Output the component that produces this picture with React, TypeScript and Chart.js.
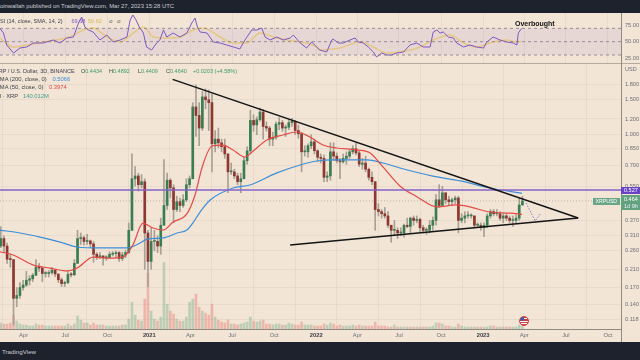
import React, { useEffect, useRef } from "react";
import { Chart, registerables } from "chart.js";

Chart.register(...registerables);

const FONT = "Arial, 'Liberation Sans', sans-serif";
const BG = "#f2e5d6";
const DARK = "#1e222d";
const GRID = "rgba(120,100,80,0.07)";
const AXIS_LINE = "#8f8a84";
const TICK_COLOR = "#6d6f78";

// x values are days counted from 2020-01-01
const X_MIN = 39.4;
const X_MAX = 1397.6;
const X_TICK_DAYS = [91, 182, 274, 366, 456, 547, 639, 731, 821, 912, 1004, 1096, 1186, 1277, 1369];
const X_TICK_LABELS = ["Apr", "Jul", "Oct", "2021", "Apr", "Jul", "Oct", "2022", "Apr", "Jul", "Oct", "2023", "Apr", "Jul", "Oct"];
const YEAR_LABELS = ["2021", "2022", "2023"];

const PRICE_MIN = 0.1051;
const PRICE_MAX = 2.27;
const PRICE_TICKS = [1.8, 1.5, 1.2, 1.0, 0.85, 0.7, 0.55, 0.37, 0.31, 0.26, 0.21, 0.17, 0.14, 0.118];

// weekly candles
const CANDLE_FIRST_DAY = 41;
const CANDLE_PERIOD_DAYS = 7;
const FIRST_OPEN = 0.275;
const CLOSES = [
  0.300, 0.275, 0.236, 0.235, 0.150, 0.155, 0.170, 0.175, 0.185, 0.188,
  0.196, 0.215, 0.213, 0.200, 0.200, 0.202, 0.208, 0.199, 0.186, 0.178,
  0.180, 0.198, 0.197, 0.225, 0.300, 0.303, 0.290, 0.292, 0.282, 0.250,
  0.243, 0.245, 0.240, 0.241, 0.250, 0.252, 0.255, 0.238, 0.248, 0.255,
  0.330, 0.600, 0.620, 0.560, 0.580, 0.320, 0.230, 0.290, 0.290, 0.275,
  0.350, 0.440, 0.590, 0.540, 0.420, 0.460, 0.440, 0.470, 0.560, 0.600,
  1.380, 1.250, 1.080, 1.550, 1.500, 1.450, 0.900, 0.950, 0.910, 0.870,
  0.800, 0.650, 0.650, 0.620, 0.580, 0.600, 0.740, 0.830, 1.180, 1.120,
  1.190, 1.300, 1.100, 1.080, 0.950, 0.970, 1.130, 1.150, 1.080, 1.090,
  1.150, 1.170, 1.050, 1.010, 0.820, 0.820, 0.880, 0.920, 0.830, 0.770,
  0.760, 0.610, 0.620, 0.820, 0.780, 0.740, 0.730, 0.760, 0.780, 0.820,
  0.850, 0.810, 0.710, 0.720, 0.670, 0.610, 0.580, 0.420, 0.410, 0.400,
  0.390, 0.350, 0.330, 0.330, 0.320, 0.320, 0.350, 0.345, 0.380, 0.370,
  0.375, 0.340, 0.330, 0.330, 0.350, 0.370, 0.470, 0.440, 0.510, 0.470,
  0.460, 0.470, 0.480, 0.370, 0.380, 0.390, 0.390, 0.390, 0.350, 0.350,
  0.340, 0.350, 0.390, 0.410, 0.400, 0.400, 0.380, 0.390, 0.380, 0.370,
  0.370, 0.380, 0.443, 0.464,
];
const HIGHS = [
  0.345, 0.310, 0.285, 0.250, 0.235, 0.170, 0.180, 0.185, 0.205, 0.195,
  0.200, 0.235, 0.225, 0.215, 0.205, 0.207, 0.215, 0.210, 0.195, 0.190,
  0.183, 0.206, 0.202, 0.235, 0.330, 0.320, 0.310, 0.315, 0.295, 0.290,
  0.255, 0.255, 0.246, 0.246, 0.257, 0.258, 0.260, 0.258, 0.256, 0.262,
  0.360, 0.800, 0.690, 0.640, 0.630, 0.600, 0.330, 0.340, 0.330, 0.310,
  0.380, 0.750, 0.640, 0.600, 0.560, 0.490, 0.480, 0.500, 0.600, 0.620,
  1.450, 1.780, 1.450, 1.650, 1.700, 1.680, 1.600, 1.050, 1.080, 0.950,
  0.950, 0.800, 0.720, 0.670, 0.640, 0.640, 0.770, 0.870, 1.330, 1.260,
  1.230, 1.360, 1.340, 1.160, 1.100, 1.030, 1.160, 1.220, 1.180, 1.120,
  1.190, 1.210, 1.180, 1.120, 1.030, 0.880, 0.900, 1.000, 0.950, 0.840,
  0.800, 0.790, 0.650, 0.910, 0.910, 0.810, 0.760, 0.800, 0.820, 0.840,
  0.880, 0.910, 0.830, 0.760, 0.780, 0.680, 0.650, 0.580, 0.450, 0.420,
  0.430, 0.410, 0.350, 0.370, 0.340, 0.340, 0.355, 0.380, 0.385, 0.390,
  0.390, 0.380, 0.350, 0.340, 0.370, 0.385, 0.500, 0.560, 0.550, 0.510,
  0.490, 0.480, 0.490, 0.490, 0.400, 0.410, 0.410, 0.400, 0.390, 0.360,
  0.360, 0.360, 0.400, 0.420, 0.420, 0.420, 0.410, 0.400, 0.400, 0.390,
  0.390, 0.395, 0.480, 0.4892,
];
const LOWS = [
  0.270, 0.255, 0.225, 0.215, 0.110, 0.136, 0.150, 0.165, 0.172, 0.175,
  0.182, 0.195, 0.205, 0.182, 0.192, 0.192, 0.198, 0.193, 0.180, 0.172,
  0.172, 0.178, 0.192, 0.195, 0.225, 0.280, 0.278, 0.280, 0.272, 0.228,
  0.235, 0.238, 0.220, 0.233, 0.238, 0.245, 0.240, 0.230, 0.232, 0.240,
  0.252, 0.330, 0.550, 0.520, 0.540, 0.210, 0.172, 0.210, 0.260, 0.255,
  0.250, 0.350, 0.420, 0.480, 0.360, 0.410, 0.410, 0.430, 0.460, 0.540,
  0.600, 0.980, 0.880, 1.050, 1.350, 1.050, 0.650, 0.820, 0.860, 0.820,
  0.760, 0.510, 0.630, 0.600, 0.560, 0.510, 0.600, 0.710, 0.800, 1.040,
  1.000, 1.170, 0.950, 1.040, 0.880, 0.880, 0.950, 1.060, 1.040, 0.980,
  1.060, 1.100, 1.000, 0.960, 0.650, 0.780, 0.770, 0.850, 0.800, 0.730,
  0.720, 0.580, 0.580, 0.590, 0.740, 0.720, 0.600, 0.720, 0.710, 0.760,
  0.800, 0.790, 0.690, 0.670, 0.650, 0.590, 0.560, 0.330, 0.390, 0.380,
  0.380, 0.340, 0.287, 0.310, 0.300, 0.310, 0.305, 0.340, 0.320, 0.350,
  0.360, 0.325, 0.320, 0.315, 0.320, 0.330, 0.350, 0.430, 0.440, 0.450,
  0.440, 0.440, 0.450, 0.320, 0.360, 0.360, 0.380, 0.380, 0.340, 0.340,
  0.330, 0.307, 0.340, 0.380, 0.390, 0.390, 0.370, 0.360, 0.370, 0.360,
  0.345, 0.360, 0.370, 0.4409,
];
// volume in millions of XRP
const VOLUMES = [
  1800, 1500, 1500, 1800, 4200, 2400,
  1500, 1200, 1200, 900, 900, 1500, 1200, 1200, 900, 900, 900, 900, 900, 900, 900, 1500, 900, 1500,
  3900, 2700, 1800, 1800, 1200,
  1800, 1200, 1200, 1200, 900, 900, 900, 900, 900, 1200, 1200, 3000,
  8100, 4200, 2700, 2400, 9000, 16800,
  5400, 3000, 2400, 3600, 20100,
  7500, 5400, 4500, 3000, 2400, 2400, 3600,
  8100, 9000, 10500, 6600, 5400, 4800, 4200, 7500,
  3600, 2700, 2100, 1800, 2700,
  1500, 1500, 1200, 1500, 1800, 2100, 3600,
  2400, 2100, 2400, 2700,
  1500, 1500, 1200, 1500, 1500, 1200, 1200, 1800, 1500, 1200, 1200, 2100, 1200, 1200, 1200, 900,
  900, 900, 1500, 1200, 1800, 1500, 900, 1200, 900, 900, 900, 1200, 900, 1200, 900, 900, 900, 900,
  2100,
  900, 900, 900, 600, 600, 1200, 600, 600, 600, 600, 600, 600, 600, 600, 600, 600, 600, 900,
  1800, 1800, 1500, 900, 900, 600, 600, 1500,
  900, 600, 600, 600, 600, 600, 600, 600, 600, 900, 900, 600, 600, 600, 600, 600, 600, 600,
  1200, 900,
];
const VOLUME_AXIS_MAX = 80000;

const SMA200_DAYS = [39, 83, 127, 171, 208, 258, 317, 346, 361, 396, 427, 448, 461, 477, 499, 549, 586, 645, 696, 733, 768, 842, 877, 914, 986, 1046, 1111, 1181];
const SMA200_VALUES = [0.331, 0.320, 0.305, 0.288, 0.272, 0.269, 0.269, 0.285, 0.298, 0.302, 0.320, 0.331, 0.359, 0.408, 0.469, 0.539, 0.558, 0.642, 0.704, 0.737, 0.746, 0.746, 0.720, 0.680, 0.619, 0.585, 0.539, 0.5066];

const SMA50_DAYS = [39, 68, 111, 149, 186, 208, 243, 280, 308, 330, 352, 374, 396, 418, 448, 466, 481, 503, 527, 549, 575, 593, 623, 658, 689, 717, 746, 776, 820, 849, 877, 914, 952, 995, 1039, 1067, 1111, 1155, 1181];
const SMA50_VALUES = [0.257, 0.248, 0.221, 0.213, 0.206, 0.213, 0.242, 0.239, 0.242, 0.278, 0.359, 0.339, 0.331, 0.363, 0.399, 0.497, 0.680, 0.877, 0.887, 0.838, 0.772, 0.828, 0.940, 0.997, 1.032, 0.974, 0.887, 0.857, 0.838, 0.809, 0.688, 0.552, 0.486, 0.433, 0.443, 0.433, 0.408, 0.403, 0.3974];

const UPPER_TREND_DAYS = [417, 1304];
const UPPER_TREND_PRICES = [1.9, 0.381];
const LOWER_TREND_DAYS = [674, 1304];
const LOWER_TREND_PRICES = [0.278, 0.381];
const RESISTANCE_PRICE = 0.527;
const LAST_PRICE = 0.464;
const PROJECTION_DAYS = [1190, 1210, 1221];
const PROJECTION_PRICES = [0.453, 0.368, 0.399];

const RSI_MIN = 18;
const RSI_MAX = 93;
const RSI_TICKS = [25, 50, 75];
const RSI_LEVELS = [70, 50, 30];
const RSI_DAYS = [39, 47, 54, 69, 83, 98, 112, 134, 156, 171, 185, 200, 211, 218, 225, 233, 243, 258, 273, 287, 302, 317, 324, 330, 337, 344, 353, 360, 371, 382, 389, 397, 404, 418, 433, 448, 459, 466, 471, 477, 492, 506, 521, 535, 550, 564, 575, 590, 601, 612, 619, 630, 645, 659, 674, 681, 696, 710, 721, 732, 739, 754, 765, 768, 779, 790, 805, 816, 823, 834, 845, 856, 863, 874, 885, 896, 907, 922, 936, 951, 965, 980, 987, 995, 1002, 1009, 1020, 1031, 1038, 1053, 1067, 1082, 1097, 1104, 1118, 1133, 1148, 1162, 1170, 1173, 1180];
const RSI_VALUES = [70, 63, 45, 33, 40.5, 42, 48, 48, 52.5, 48, 55.5, 57, 78, 87, 72, 67.5, 64.5, 52.5, 60, 49.5, 52.5, 57, 82.5, 90, 82.5, 72, 63, 42, 37.5, 48, 52.5, 67.5, 57, 63, 57, 63, 78, 85.5, 72, 64.5, 63, 49.5, 48, 45, 42, 39, 52.5, 67.5, 67.5, 70.5, 57, 52.5, 57, 52.5, 55.5, 60, 48, 40.5, 49.5, 42, 37.5, 34.5, 52.5, 54, 48, 48, 52.5, 55.5, 49.5, 48, 42, 34.5, 27, 33, 30, 30, 33, 34.5, 45, 48, 42, 42, 64.5, 67.5, 63, 64.5, 57, 55.5, 48, 42, 45, 42, 40.5, 49.5, 57, 52.5, 49.5, 48, 45, 63, 69.68];
const RSI_MA_DAYS = [39, 68, 98, 134, 163, 192, 222, 243, 273, 302, 331, 353, 375, 404, 433, 462, 484, 521, 550, 579, 608, 637, 666, 695, 732, 739, 783, 827, 856, 885, 914, 958, 987, 1024, 1053, 1082, 1118, 1148, 1169, 1180];
const RSI_MA_VALUES = [55.5, 42, 45, 49.5, 52.5, 57, 67.5, 70.5, 57, 49.5, 63, 72, 57, 55.5, 57, 67.5, 70.5, 57, 48, 48, 63, 57, 52.5, 49.5, 42, 37.5, 40.5, 49.5, 42, 33, 34.5, 42, 52.5, 60, 48, 42, 49.5, 52.5, 49.5, 50.62];

const pts = (xs: number[], ys: number[]) => xs.map((x, i) => ({ x, y: ys[i] }));

function zeroPadding(s: any) {
  s.paddingTop = 0;
  s.paddingBottom = 0;
  s.paddingLeft = 0;
  s.paddingRight = 0;
}

function RsiChart() {
  const ref = useRef<HTMLCanvasElement>(null);
  useEffect(() => {
    const level = (v: number, fill: any) => ({
      type: "line" as const,
      data: [{ x: X_MIN, y: v }, { x: X_MAX, y: v }],
      borderColor: "rgba(120,118,128,0.75)",
      borderWidth: 1,
      borderDash: [3, 3],
      pointRadius: 0,
      fill,
      backgroundColor: "rgba(126,87,194,0.10)",
    });
    const chart = new Chart(ref.current!, {
      type: "line",
      data: {
        datasets: [
          level(RSI_LEVELS[0], 2),
          level(RSI_LEVELS[1], false),
          level(RSI_LEVELS[2], false),
          {
            data: pts(RSI_DAYS, RSI_VALUES),
            borderColor: "#7e57c2",
            borderWidth: 1,
            pointRadius: 0,
            fill: false,
          },
          {
            data: pts(RSI_MA_DAYS, RSI_MA_VALUES),
            borderColor: "#f1d47e",
            borderWidth: 1.5,
            pointRadius: 0,
            fill: false,
            cubicInterpolationMode: "monotone",
          },
        ],
      },
      options: {
        animation: false,
        responsive: false,
        devicePixelRatio: 1,
        layout: { padding: 0 },
        plugins: { legend: { display: false }, tooltip: { enabled: false } },
        scales: {
          x: {
            type: "linear",
            min: X_MIN,
            max: X_MAX,
            afterBuildTicks: (s: any) => {
              s.ticks = X_TICK_DAYS.map((v) => ({ value: v }));
            },
            afterFit: (s: any) => {
              s.height = 0;
              zeroPadding(s);
            },
            ticks: { display: false },
            grid: { color: GRID, drawTicks: false },
            border: { display: false },
          },
          y: {
            type: "linear",
            position: "right",
            min: RSI_MIN,
            max: RSI_MAX,
            afterBuildTicks: (s: any) => {
              s.ticks = RSI_TICKS.map((v) => ({ value: v }));
            },
            afterFit: (s: any) => {
              s.width = 19;
              zeroPadding(s);
            },
            ticks: {
              padding: 4,
              color: TICK_COLOR,
              font: { family: FONT, size: 5.6 },
              autoSkip: false,
              callback: (v: any) => Number(v).toFixed(2),
            },
            grid: { display: false, drawTicks: false },
            border: { display: true, color: AXIS_LINE },
          },
        },
      },
    } as any);
    return () => chart.destroy();
  }, []);
  return (
    <canvas
      ref={ref}
      width={640}
      height={50}
      style={{ position: "absolute", left: 0, top: 13, width: 640, height: 50 }}
    />
  );
}

function MainChart() {
  const ref = useRef<HTMLCanvasElement>(null);
  useEffect(() => {
    const opens = CLOSES.map((c, i) => (i === 0 ? FIRST_OPEN : CLOSES[i - 1]));
    const days = CLOSES.map((_, i) => CANDLE_FIRST_DAY + i * CANDLE_PERIOD_DAYS);
    const up = CLOSES.map((c, i) => c >= opens[i]);
    const line = (data: any[], color: string, width: number, extra: any = {}) => ({
      type: "line" as const,
      data,
      borderColor: color,
      borderWidth: width,
      pointRadius: 0,
      fill: false,
      ...extra,
    });
    const chart = new Chart(ref.current!, {
      type: "bar",
      data: {
        datasets: [
          {
            type: "bar",
            yAxisID: "yv",
            data: days.map((d, i) => ({ x: d, y: VOLUMES[i] })),
            backgroundColor: up.map((u) => (u ? "rgba(80,160,115,0.32)" : "rgba(226,96,88,0.35)")),
            barThickness: 2,
            grouped: false,
            order: 10,
          },
          {
            type: "bar",
            yAxisID: "y",
            data: days.map((d, i) => ({ x: d, y: [LOWS[i], HIGHS[i]] })),
            backgroundColor: "#a89f95",
            barThickness: 1,
            grouped: false,
            order: 9,
          },
          {
            type: "bar",
            yAxisID: "y",
            data: days.map((d, i) => ({ x: d, y: [opens[i], CLOSES[i]] })),
            backgroundColor: up.map((u) => (u ? "#3a7d52" : "#8e3730")),
            barThickness: 2,
            minBarLength: 1,
            grouped: false,
            order: 8,
          },
          line(pts([X_MIN, X_MAX], [LAST_PRICE, LAST_PRICE]), "rgba(120,120,120,0.45)", 1, { borderDash: [1, 2], order: 7 }),
          line(pts(SMA200_DAYS, SMA200_VALUES), "#3d8fd9", 1.2, { cubicInterpolationMode: "monotone", order: 6 }),
          line(pts(SMA50_DAYS, SMA50_VALUES), "#e34a44", 1.2, { cubicInterpolationMode: "monotone", order: 5 }),
          line(pts([X_MIN, X_MAX], [RESISTANCE_PRICE, RESISTANCE_PRICE]), "#8462c8", 1.5, { order: 4 }),
          line(pts(UPPER_TREND_DAYS, UPPER_TREND_PRICES), "#141414", 1.5, { order: 3 }),
          line(pts(LOWER_TREND_DAYS, LOWER_TREND_PRICES), "#141414", 1.5, { order: 3 }),
          line(pts(PROJECTION_DAYS, PROJECTION_PRICES), "#9575cd", 1, { borderDash: [1.5, 1.5], order: 2 }),
        ],
      },
      options: {
        animation: false,
        responsive: false,
        devicePixelRatio: 1,
        layout: { padding: 0 },
        plugins: { legend: { display: false }, tooltip: { enabled: false } },
        scales: {
          x: {
            type: "linear",
            min: X_MIN,
            max: X_MAX,
            offset: false,
            afterBuildTicks: (s: any) => {
              s.ticks = X_TICK_DAYS.map((v) => ({ value: v }));
            },
            afterFit: (s: any) => {
              s.height = 13;
              zeroPadding(s);
            },
            grid: { color: GRID, drawTicks: false },
            border: { display: true, color: AXIS_LINE },
            ticks: {
              autoSkip: false,
              maxRotation: 0,
              padding: 3,
              color: (c: any) =>
                YEAR_LABELS.includes(X_TICK_LABELS[X_TICK_DAYS.indexOf(c.tick?.value)]) ? "#3a3c44" : TICK_COLOR,
              font: (c: any) => ({
                family: FONT,
                size: 5.8,
                weight: YEAR_LABELS.includes(X_TICK_LABELS[X_TICK_DAYS.indexOf(c.tick?.value)]) ? "bold" : "normal",
              }),
              callback: (v: any) => X_TICK_LABELS[X_TICK_DAYS.indexOf(Number(v))] ?? "",
            },
          },
          y: {
            type: "logarithmic",
            position: "right",
            min: PRICE_MIN,
            max: PRICE_MAX,
            afterBuildTicks: (s: any) => {
              s.ticks = PRICE_TICKS.map((v) => ({ value: v }));
            },
            afterFit: (s: any) => {
              s.width = 19;
              zeroPadding(s);
            },
            grid: { color: GRID, drawTicks: false },
            border: { display: true, color: AXIS_LINE },
            ticks: {
              autoSkip: false,
              padding: 4,
              color: TICK_COLOR,
              font: { family: FONT, size: 5.6 },
              callback: (v: any) => Number(v).toFixed(3),
            },
          },
          yv: {
            type: "linear",
            display: false,
            min: 0,
            max: VOLUME_AXIS_MAX,
          },
        },
      },
    } as any);
    return () => chart.destroy();
  }, []);
  return (
    <canvas
      ref={ref}
      width={640}
      height={278}
      style={{ position: "absolute", left: 0, top: 64, width: 640, height: 278 }}
    />
  );
}

function Txt(props: {
  x: number;
  y: number;
  size?: number;
  color?: string;
  bold?: boolean;
  children: React.ReactNode;
}) {
  const size = props.size ?? 5.5;
  return (
    <div
      style={{
        position: "absolute",
        left: props.x,
        top: props.y - size * 0.6,
        fontSize: size,
        lineHeight: `${size * 1.2}px`,
        whiteSpace: "nowrap",
        color: props.color ?? "#3f424d",
        fontWeight: props.bold ? "bold" : "normal",
        fontFamily: FONT,
      }}
    >
      {props.children}
    </div>
  );
}

const GREEN_TXT = "#3f9a6a";
const LEG = 5.8;

export default function App() {
  return (
    <div
      style={{
        position: "fixed",
        left: 0,
        top: 0,
        width: 640,
        height: 360,
        background: BG,
        overflow: "hidden",
        fontFamily: FONT,
      }}
    >
      <div style={{ position: "absolute", left: 0, top: 0, width: 640, height: 13, background: DARK }} />
      <Txt x={-3} y={6.5} size={5.9} color="#c9ccd4">
        coinwallah published on TradingView.com, Mar 27, 2023 15:28 UTC
      </Txt>

      <RsiChart />
      <div style={{ position: "absolute", left: 0, top: 63, width: 640, height: 1, background: "#b3aaa0" }} />
      <MainChart />
      <div style={{ position: "absolute", left: 621, top: 13, width: 1, height: 329, background: AXIS_LINE }} />

      {/* RSI legend */}
      <Txt x={-4} y={21}>RSI (14, close, SMA, 14, 2)</Txt>
      <Txt x={71.5} y={21} color="#7e57c2">69.68</Txt>
      <Txt x={88} y={21} color="#d9b84e">50.62</Txt>
      <Txt x={109} y={21} color="#6d6f78">⌀</Txt>
      <Txt x={117} y={21} color="#6d6f78">⌀</Txt>
      <Txt x={515} y={24} size={7} bold color="#111">Overbought</Txt>

      {/* main legend */}
      <Txt x={-5} y={71} size={5.5}>XRP / U.S. Dollar, 3D, BINANCE</Txt>
      <Txt x={81} y={71} size={5.5}>O<span style={{ color: GREEN_TXT }}>0.4434</span></Txt>
      <Txt x={109} y={71} size={5.5}>H<span style={{ color: GREEN_TXT }}>0.4892</span></Txt>
      <Txt x={138} y={71} size={5.5}>L<span style={{ color: GREEN_TXT }}>0.4409</span></Txt>
      <Txt x={166} y={71} size={5.5}>C<span style={{ color: GREEN_TXT }}>0.4640</span></Txt>
      <Txt x={193} y={71} size={5.5} color={GREEN_TXT}>+0.0203 (+4.58%)</Txt>
      <Txt x={-4} y={79.3} size={LEG}>SMA (200, close, 0)</Txt>
      <Txt x={52.5} y={79.3} size={LEG} color="#3d8fd9">0.5066</Txt>
      <Txt x={-4} y={87.7} size={LEG}>SMA (50, close, 0)</Txt>
      <Txt x={49} y={87.7} size={LEG} color="#e34a44">0.3974</Txt>
      <Txt x={-7} y={96} size={LEG}>Vol · XRP</Txt>
      <Txt x={23} y={96} size={LEG} color="#3f9a8a">140.012M</Txt>

      {/* axis extras */}
      <Txt x={625} y={69} color={TICK_COLOR}>USD</Txt>
      <div style={{ position: "absolute", left: 621, top: 186.5, width: 19, height: 7.5, background: "#6a43c4" }} />
      <Txt x={624} y={190.2} color="#fff">0.527</Txt>
      <div style={{ position: "absolute", left: 621, top: 195, width: 19, height: 15, background: "#62a27f" }} />
      <Txt x={624} y={199} color="#fff">0.464</Txt>
      <Txt x={624} y={206} color="#eef">1d 9h</Txt>
      <div style={{ position: "absolute", left: 593, top: 197.5, width: 27, height: 7, background: "#6aa686" }} />
      <Txt x={595.5} y={201} size={5.2} color="#fff">XRPUSD</Txt>

      {/* event flag */}
      <div
        style={{
          position: "absolute",
          left: 519,
          top: 316,
          width: 8,
          height: 8,
          borderRadius: "50%",
          overflow: "hidden",
          background:
            "linear-gradient(90deg, #3c5bb0 0 45%, transparent 45%) 0 0 / 100% 45% no-repeat, repeating-linear-gradient(#d63a3a 0 1.2px, #ffffff 1.2px 2.4px)",
          border: "0.5px solid #c44",
        }}
      />

      {/* footer */}
      <div style={{ position: "absolute", left: 0, top: 342, width: 640, height: 18, background: DARK }} />
      <Txt x={2} y={351.5} size={6.2} color="#c9ccd4">TradingView</Txt>
    </div>
  );
}
